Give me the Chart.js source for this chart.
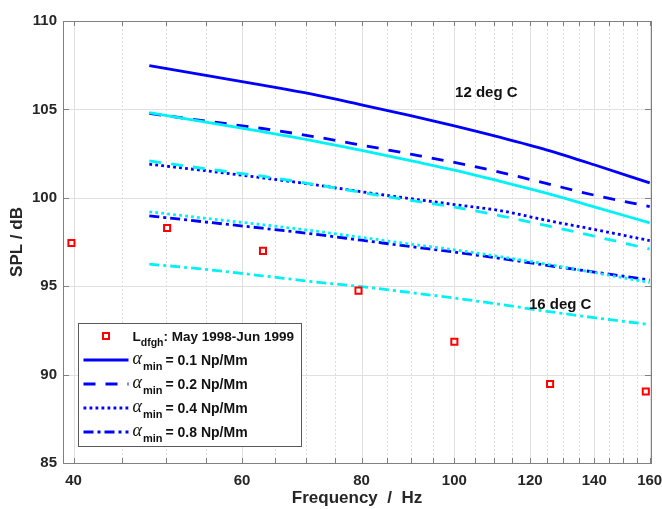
<!DOCTYPE html>
<html>
<head>
<meta charset="utf-8">
<script src="https://cdn.jsdelivr.net/npm/chart.js@4.4.1/dist/chart.umd.min.js"></script>
<style>
  html, body { margin: 0; padding: 0; background: #fff; }
</style>
</head>
<body>
<canvas id="splChart" width="662" height="509"></canvas>
<script>
// frequencies (Hz) where the model curves are sampled
const modelFreq = [48, 55, 63, 71, 80, 90, 100, 112, 125, 140, 160];

// 12 deg C model curves (blue), one per alpha_min
const spl12_01 = [107.48, 106.92, 106.37, 105.86, 105.26, 104.65, 104.07, 103.40, 102.70, 101.87, 100.84];
const spl12_02 = [104.77, 104.34, 103.92, 103.48, 102.98, 102.47, 102.00, 101.43, 100.80, 100.15, 99.50];
const spl12_04 = [101.90, 101.53, 101.13, 100.76, 100.34, 99.95, 99.62, 99.26, 98.72, 98.21, 97.58];
const spl12_08 = [98.98, 98.63, 98.28, 97.96, 97.60, 97.24, 96.93, 96.56, 96.18, 95.80, 95.35];

// 16 deg C model curves (cyan)
const spl16_01 = [104.82, 104.28, 103.74, 103.24, 102.68, 102.10, 101.57, 100.91, 100.25, 99.49, 98.58];
const spl16_02 = [102.09, 101.64, 101.22, 100.78, 100.30, 99.85, 99.47, 98.97, 98.42, 97.83, 97.10];
const spl16_04 = [99.21, 98.84, 98.48, 98.14, 97.76, 97.38, 97.06, 96.66, 96.24, 95.77, 95.21];
const spl16_08 = [96.25, 95.95, 95.59, 95.26, 94.97, 94.64, 94.33, 93.96, 93.58, 93.22, 92.83];

// measured levels at 1/3 octave centres
const measFreq = [39.8, 50.1, 63.1, 79.4, 100, 125.9, 158.5];
const measSpl = [97.44, 98.29, 97.0, 94.75, 91.86, 89.47, 89.04];

// axis ticks
const xTickValues = [40, 45, 50, 55, 60, 65, 70, 75, 80, 85, 90, 95, 100, 105, 110, 115, 120, 125, 130, 135, 140, 145, 150, 155, 160];
const xLabelValues = [40, 60, 80, 100, 120, 140, 160];
const yTickValues = [85, 90, 95, 100, 105, 110];

const legendLabels = ['0.1', '0.2', '0.4', '0.8'];

const BLUE = '#0000ff';
const CYAN = '#00f2f6';
const DASH = [12, 10];
const DOT = [2.8, 3.2];
const DASHDOT = [10, 4, 3, 4];
const styles = [[], DASH, DOT, DASHDOT];

const FONT = '"Liberation Sans", Arial, sans-serif';
const TEXT = '#262626';

function pts(ys) {
    return modelFreq.map((f, i) => ({ x: f, y: ys[i] }));
}

function curve(ys, color, dash) {
    return {
        data: pts(ys),
        borderColor: color,
        borderWidth: 2.8,
        borderDash: dash,
        pointRadius: 0,
        fill: false,
        cubicInterpolationMode: 'monotone'
    };
}

// grid, box, inward ticks, text labels and legend
const framePlugin = {
    id: 'frame',
    beforeDatasetsDraw(chart) {
        const { ctx, chartArea: a, scales: { x, y } } = chart;
        ctx.save();
        ctx.lineWidth = 1;
        xTickValues.forEach(v => {
            const px = Math.round(x.getPixelForValue(v)) + 0.5;
            const major = xLabelValues.includes(v);
            ctx.strokeStyle = major ? '#e0e0e0' : '#dedede';
            ctx.setLineDash(major ? [] : [2, 2]);
            ctx.beginPath();
            ctx.moveTo(px, a.top);
            ctx.lineTo(px, a.bottom);
            ctx.stroke();
        });
        ctx.setLineDash([]);
        ctx.strokeStyle = '#e0e0e0';
        yTickValues.forEach(v => {
            const py = Math.round(y.getPixelForValue(v)) + 0.5;
            ctx.beginPath();
            ctx.moveTo(a.left, py);
            ctx.lineTo(a.right, py);
            ctx.stroke();
        });
        ctx.restore();
    },
    afterDatasetsDraw(chart) {
        const { ctx, chartArea: a, scales: { x, y } } = chart;
        ctx.save();

        // axes box and inward ticks
        ctx.strokeStyle = '#808080';
        ctx.lineWidth = 1;
        ctx.strokeRect(Math.round(a.left) + 0.5, Math.round(a.top) + 0.5,
            Math.round(a.right - a.left), Math.round(a.bottom - a.top));
        ctx.beginPath();
        xTickValues.forEach(v => {
            const px = Math.round(x.getPixelForValue(v)) + 0.5;
            ctx.moveTo(px, a.bottom); ctx.lineTo(px, a.bottom - 5);
            ctx.moveTo(px, a.top); ctx.lineTo(px, a.top + 5);
        });
        yTickValues.forEach(v => {
            const py = Math.round(y.getPixelForValue(v)) + 0.5;
            ctx.moveTo(a.left, py); ctx.lineTo(a.left + 6, py);
            ctx.moveTo(a.right, py); ctx.lineTo(a.right - 6, py);
        });
        ctx.stroke();

        // temperature labels
        ctx.fillStyle = '#111';
        ctx.font = 'bold 15px ' + FONT;
        ctx.textAlign = 'center';
        ctx.textBaseline = 'middle';
        ctx.fillText('12 deg C', x.getPixelForValue(108), y.getPixelForValue(105.92));
        ctx.fillText('16 deg C', x.getPixelForValue(129), y.getPixelForValue(93.94));

        // legend
        const bx = a.left + 15.5, by = a.bottom - 139.5, bw = 223, bh = 123;
        ctx.fillStyle = '#fff';
        ctx.fillRect(bx, by, bw, bh);
        ctx.strokeStyle = '#5a5a5a';
        ctx.strokeRect(bx, by, bw, bh);

        const sx0 = bx + 5, sx1 = bx + 50, tx = bx + 54;
        let ry = by + 12.5;
        ctx.textAlign = 'left';
        ctx.textBaseline = 'alphabetic';

        // measured entry
        ctx.strokeStyle = '#ff0000';
        ctx.lineWidth = 2;
        ctx.strokeRect((sx0 + sx1) / 2 - 3, ry - 3, 6, 6);
        ctx.fillStyle = '#111';
        ctx.font = 'bold 13.5px ' + FONT;
        ctx.fillText('L', tx, ry + 5);
        let w = ctx.measureText('L').width;
        ctx.font = 'bold 10.5px ' + FONT;
        ctx.fillText('dfgh', tx + w, ry + 10);
        w += ctx.measureText('dfgh').width;
        ctx.font = 'bold 13.5px ' + FONT;
        ctx.fillText(': May 1998-Jun 1999', tx + w, ry + 5);

        legendLabels.forEach((lab, i) => {
            ry += 24;
            ctx.strokeStyle = BLUE;
            ctx.lineWidth = 2.8;
            ctx.setLineDash(styles[i]);
            ctx.beginPath();
            ctx.moveTo(sx0, ry);
            ctx.lineTo(sx1, ry);
            ctx.stroke();
            ctx.setLineDash([]);
            ctx.fillStyle = '#111';
            ctx.font = 'italic 18px "Liberation Serif", "Times New Roman", serif';
            ctx.fillText('\u03b1', tx, ry + 4);
            let ww = ctx.measureText('\u03b1').width;
            ctx.font = 'bold 11px ' + FONT;
            ctx.fillText('min', tx + ww + 1, ry + 10);
            ww += ctx.measureText('min').width + 4;
            ctx.font = 'bold 14px ' + FONT;
            ctx.fillText('= ' + lab + ' Np/Mm', tx + ww, ry + 5);
        });

        ctx.restore();
    }
};

const ctx = document.getElementById('splChart').getContext('2d');

new Chart(ctx, {
    type: 'line',
    data: {
        datasets: [
            {
                data: measFreq.map((f, i) => ({ x: f, y: measSpl[i] })),
                showLine: false,
                pointStyle: 'rect',
                pointRadius: 4.3,
                pointBorderWidth: 2,
                borderColor: '#ff0000',
                backgroundColor: '#ffffff',
                pointBackgroundColor: '#ffffff'
            },
            curve(spl16_01, CYAN, []),
            curve(spl16_02, CYAN, DASH),
            curve(spl16_04, CYAN, DOT),
            curve(spl16_08, CYAN, DASHDOT),
            curve(spl12_01, BLUE, []),
            curve(spl12_02, BLUE, DASH),
            curve(spl12_04, BLUE, DOT),
            curve(spl12_08, BLUE, DASHDOT)
        ]
    },
    options: {
        responsive: false,
        animation: false,
        layout: { padding: { top: 21, right: 11, left: 0, bottom: 0 } },
        plugins: {
            legend: { display: false },
            tooltip: { enabled: false }
        },
        scales: {
            x: {
                type: 'logarithmic',
                min: 39,
                max: 160.5,
                grid: { display: false, drawTicks: false },
                border: { display: false },
                afterBuildTicks: scale => {
                    scale.ticks = xTickValues.map(v => ({ value: v }));
                },
                afterFit: scale => {
                    scale.height = 46;
                    scale.paddingLeft = 0;
                    scale.paddingRight = 0;
                },
                ticks: {
                    autoSkip: false,
                    maxRotation: 0,
                    padding: 9,
                    color: TEXT,
                    font: { family: FONT, size: 15, weight: 'bold' },
                    callback: v => (xLabelValues.includes(v) ? String(v) : '')
                },
                title: {
                    display: true,
                    text: 'Frequency  /  Hz',
                    color: TEXT,
                    font: { family: FONT, size: 17, weight: 'bold' },
                    padding: { top: 0, bottom: 0 }
                }
            },
            y: {
                min: 85,
                max: 110,
                grid: { display: false, drawTicks: false },
                border: { display: false },
                afterBuildTicks: scale => {
                    scale.ticks = yTickValues.map(v => ({ value: v }));
                },
                afterFit: scale => {
                    scale.width = 63;
                    scale.paddingTop = 0;
                    scale.paddingBottom = 0;
                },
                ticks: {
                    padding: 6,
                    color: TEXT,
                    font: { family: FONT, size: 15, weight: 'bold' }
                },
                title: {
                    display: true,
                    text: 'SPL / dB',
                    color: TEXT,
                    font: { family: FONT, size: 17, weight: 'bold' },
                    padding: { top: 7, bottom: 0 }
                }
            }
        }
    },
    plugins: [framePlugin]
});
</script>
</body>
</html>
